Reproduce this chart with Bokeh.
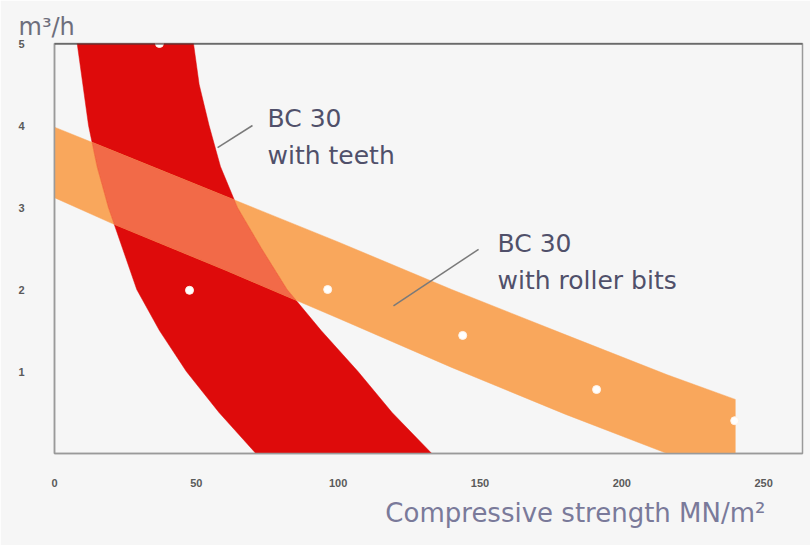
import numpy as np
from bokeh.plotting import figure
from bokeh.models import Range1d, FixedTicker, Label, Span, Title
from bokeh.embed import file_html
from bokeh.resources import INLINE

# ---- data ----
# "BC 30 with teeth" band: x-limits (MN/m2) at each output level (m3/h)
red_y = [0, 0.5, 1.0, 1.5, 2.0, 2.5, 3.0, 3.5, 4.0, 4.5, 5.0]
red_left = [71, 58, 46.5, 37, 29, 24, 19, 15, 12, 10, 8]
red_right = [133, 119, 107, 94, 82, 73, 64.5, 58.5, 54.5, 51, 49]

# "BC 30 with roller bits" band: output limits at each strength
or_x = [0, 20, 60, 100, 140, 180, 216, 240]
or_top = [3.98, 3.70, 3.14, 2.58, 2.00, 1.45, 0.96, 0.66]
or_bot = [3.12, 2.81, 2.24, 1.65, 1.05, 0.48, 0.0, 0.0]

# white marker dots
dot_x = [37, 47.6, 96.3, 143.9, 191.1, 239.8]
dot_y = [5.0, 1.99, 2.0, 1.44, 0.78, 0.40]

x_ticks = [0, 50, 100, 150, 200, 250]
y_ticks = [1, 2, 3, 4, 5]

RED = "#de0b0b"
ORANGE = "#f9a75c"
OVERLAP = "#f26a48"
BG = "#f6f6f6"
TXT = "#50506a"
font = "DejaVu Sans"

p = figure(width=810, height=545, output_backend="svg", toolbar_location=None,
           x_range=Range1d(0, 263.7), y_range=Range1d(0, 5),
           min_border_left=54, min_border_right=8, min_border_top=43, min_border_bottom=92)
p.background_fill_color = BG
p.border_fill_color = BG
p.xgrid.grid_line_color = None
p.ygrid.grid_line_color = None
p.outline_line_color = "#9a9a9a"
p.outline_line_width = 1.5

for ax in (p.xaxis[0], p.yaxis[0]):
    ax.axis_line_color = "#9a9a9a"
    ax.axis_line_width = 1.5
    ax.major_tick_line_color = None
    ax.minor_tick_line_color = None
    ax.major_label_text_font = "Liberation Sans"
    ax.major_label_text_font_size = "11px"
    ax.major_label_text_font_style = "bold"
    ax.major_label_text_color = "#5a5a5a"
p.xaxis.ticker = FixedTicker(ticks=x_ticks)
p.yaxis.ticker = FixedTicker(ticks=y_ticks)
p.xaxis.major_label_standoff = 19
p.yaxis.major_label_standoff = 24

# red band
red_xs = list(red_left) + list(red_right)[::-1]
red_ys = list(red_y) + list(red_y)[::-1]
p.patch(red_xs, red_ys, fill_color=RED, line_color=RED, line_width=0.5)

# orange band
or_xs = list(or_x) + list(or_x)[::-1]
or_ys = list(or_top) + list(or_bot)[::-1]
p.patch(or_xs, or_ys, fill_color=ORANGE, line_color=ORANGE, line_width=0.5)

# overlap of the two bands (computed)
yy = np.linspace(0.001, 4.999, 3000)
L = np.interp(yy, red_y, red_left)
R = np.interp(yy, red_y, red_right)
xt = np.interp(yy, or_top[::-1], or_x[::-1])
xt = np.where(yy > max(or_top), -1.0, xt)
xb = np.interp(yy, or_bot[:-1][::-1], or_x[:-1][::-1])
lo = np.maximum(L, xb)
hi = np.minimum(R, xt)
ok = hi > lo
ov_xs = list(lo[ok]) + list(hi[ok][::-1])
ov_ys = list(yy[ok]) + list(yy[ok][::-1])
p.patch(ov_xs, ov_ys, fill_color=OVERLAP, line_color=OVERLAP, line_width=0.5)

# dark top line
p.add_layout(Span(location=5, dimension="width", line_color="#3a3a3a", line_width=2))

# dots
p.scatter(dot_x, dot_y, size=8, fill_color="white", line_color="#fff3e8", line_width=1)

# leader lines
p.line([57.5, 69.8], [3.73, 4.0], line_color="#7a7a7a", line_width=1.5)
p.line([119.5, 149.5], [1.80, 2.49], line_color="#7a7a7a", line_width=1.5)

def lab(x, y, t, size, color=TXT, align="left"):
    p.add_layout(Label(x=x, y=y, text=t, text_font=font, text_font_size=size,
                       text_color=color, text_align=align, text_baseline="alphabetic"))

lab(75.1, 4.085, "BC 30", "25px")
lab(75.1, 3.634, "with teeth", "25px")
lab(156.2, 2.561, "BC 30", "25px")
lab(156.2, 2.11, "with roller bits", "25px")

p.add_layout(Title(text="Compressive strength MN/m²", align="right", offset=37, standoff=12,
                   text_font=font, text_font_size="26px", text_font_style="normal",
                   text_color="#7a7a9a"), "below")
p.add_layout(Title(text="m³/h", align="left", offset=-36, standoff=6,
                   text_font=font, text_font_size="24px", text_font_style="normal",
                   text_color="#6e6e7c"), "above")

open("out.html", "w").write(file_html(p, INLINE))
